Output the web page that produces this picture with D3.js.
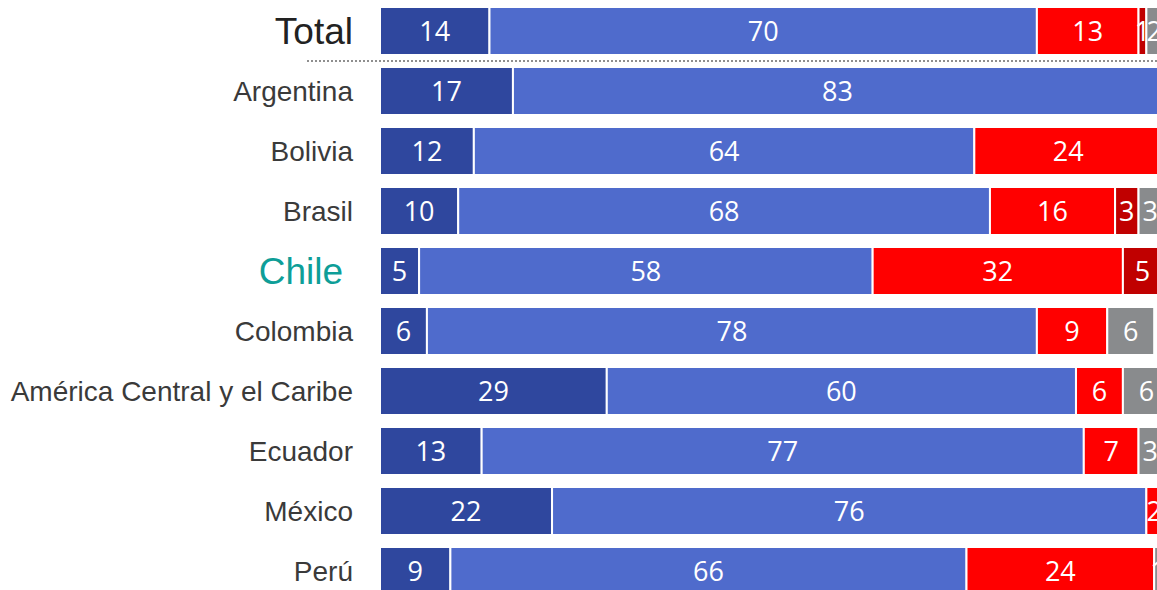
<!DOCTYPE html>
<html>
<head>
<meta charset="utf-8">
<script src="https://cdn.jsdelivr.net/npm/d3@7"></script>
<style>
  html, body { margin: 0; padding: 0; background: #fff; overflow: hidden; }
  svg { display: block; }
</style>
</head>
<body>
<div id="vis"></div>
<script>
// Rows, top to bottom
const countries = ["Total", "Argentina", "Bolivia", "Brasil", "Chile", "Colombia",
  "América Central y el Caribe", "Ecuador", "México", "Perú"];

// Series values (percent), one array per answer group
const muyBien   = [14, 17, 12, 10, 5, 6, 29, 13, 22, 9];
const bien      = [70, 83, 64, 68, 58, 78, 60, 77, 76, 66];
const mal       = [13, 0, 24, 16, 32, 9, 6, 7, 2, 24];
const muyMal    = [1, 0, 0, 3, 5, 0, 0, 0, 0, 0];
const noSabe    = [2, 0, 0, 3, 0, 6, 6, 3, 0, 1];

const seriesColors = ["#2f479e", "#4f6bcc", "#ff0000", "#c00000", "#898b8d"];

const width = 1157;
const height = 590;

const svg = d3.select("#vis")
  .append("svg")
  .attr("width", width)
  .attr("height", height);

// x: percent -> pixels, y: one band per country
const x = d3.scaleLinear().domain([0, 100]).range([380, 1162]);
const y = d3.scaleBand().domain(countries).range([1, 601]).paddingInner(0.2).paddingOuter(0.1);

const series = [muyBien, bien, mal, muyMal, noSabe];

// build stacked rows
const rows = countries.map((c, i) => {
  let acc = 0;
  const segs = series.map((s, k) => {
    const seg = { country: c, k: k, v: s[i], x0: acc, x1: acc + s[i] };
    acc += s[i];
    return seg;
  }).filter(d => d.v > 0);
  return { country: c, segs: segs };
});

const rowG = svg.selectAll(".row")
  .data(rows)
  .enter()
  .append("g")
  .attr("class", "row");

rowG.selectAll("rect")
  .data(d => d.segs)
  .enter()
  .append("rect")
  .attr("x", d => x(d.x0))
  .attr("y", d => y(d.country))
  .attr("width", d => x(d.x1) - x(d.x0))
  .attr("height", y.bandwidth())
  .attr("fill", d => seriesColors[d.k])
  .attr("stroke", "#fff")
  .attr("stroke-width", 2);

rowG.selectAll("text.val")
  .data(d => d.segs)
  .enter()
  .append("text")
  .attr("class", "val")
  .attr("x", d => (x(d.x0) + x(d.x1)) / 2)
  .attr("y", d => y(d.country) + y.bandwidth() / 2)
  .attr("dy", "0.36em")
  .attr("text-anchor", "middle")
  .style("font-family", "'Open Sans', 'Noto Sans', sans-serif")
  .style("font-size", "27px")
  .style("fill", "#fff")
  .text(d => d.v);

// country labels
svg.selectAll("text.cat")
  .data(countries)
  .enter()
  .append("text")
  .attr("class", "cat")
  .attr("x", d => d === "Chile" ? 343 : 353)
  .attr("y", d => y(d) + y.bandwidth() / 2)
  .attr("dy", "0.35em")
  .attr("text-anchor", "end")
  .style("font-family", "'Liberation Sans', Arial, sans-serif")
  .style("font-size", d => (d === "Total" || d === "Chile") ? "37px" : "28px")
  .style("fill", d => d === "Chile" ? "#0e9e98" : (d === "Total" ? "#222" : "#3a3a3a"))
  .text(d => d);

// dotted separator under Total
const sepY = (y("Total") + y.bandwidth() + y("Argentina")) / 2;
svg.append("line")
  .attr("x1", 307)
  .attr("x2", width)
  .attr("y1", sepY)
  .attr("y2", sepY)
  .attr("stroke", "#8f8f8f")
  .attr("stroke-width", 2)
  .attr("stroke-dasharray", "2,2");
</script>
</body>
</html>
